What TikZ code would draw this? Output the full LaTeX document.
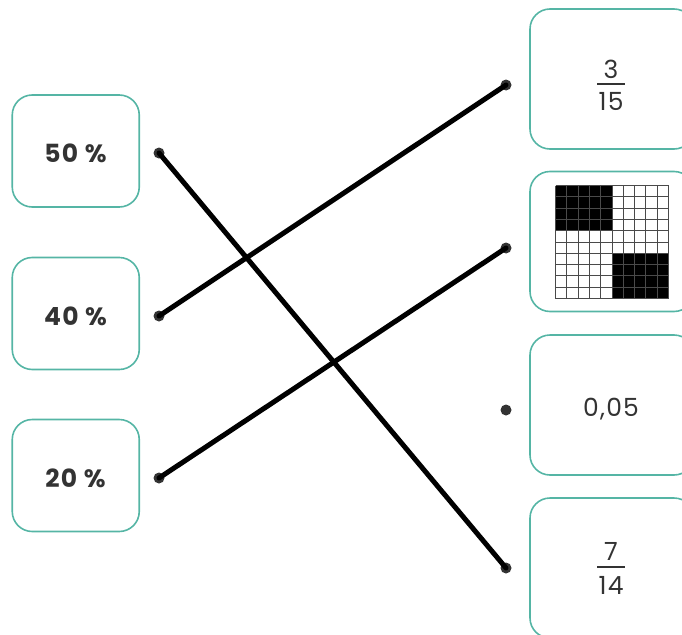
\documentclass[tikz,border=0pt]{standalone}
\usepackage{fontspec}
\setmainfont{Poppins}
\definecolor{tealb}{HTML}{55B5A5}
\definecolor{txt}{HTML}{333333}
\definecolor{gridc}{HTML}{4A4A4A}
\begin{document}
\begin{tikzpicture}[x=1pt,y=-1pt,
  lbox/.style={draw=tealb, line width=1.6pt, rounded corners=20pt, minimum width=127pt, minimum height=112pt, inner sep=0pt},
  rbox/.style={draw=tealb, line width=1.6pt, rounded corners=20pt, minimum width=164pt, minimum height=140pt, inner sep=0pt},
  ltext/.style={inner sep=0pt, text=txt, font=\fontsize{25}{25}\selectfont\bfseries\addfontfeatures{LetterSpace=5}},
  rtext/.style={inner sep=0pt, text=txt, font=\fontsize{25}{25}\selectfont\addfontfeatures{LetterSpace=5}},
  dot/.style={circle, fill=txt, inner sep=0pt, minimum size=11pt},
  link/.style={line width=5pt, black, line cap=round}]
\useasboundingbox (0,0) rectangle (682,634);
\clip (0,0) rectangle (682,634);
% left boxes
\node[lbox] (p50) at (75.75,151) {};
\node[lbox] (p40) at (75.75,313.5) {};
\node[lbox] (p20) at (75.75,475.5) {};
\node[ltext] (t50) at (75.5,153) {50 \%};
\node[ltext] (t40) at (75.5,316) {40 \%};
\node[ltext] (t20) at (75.5,478) {20 \%};
% right boxes
\node[rbox] (r1) at (612,79) {};
\node[rbox] (r2) at (612,241.5) {};
\node[rbox] (r3) at (612,405) {};
\node[rbox] (r4) at (612,568) {};
\node[rtext] (t005) at (611,409) {0,05};
% fractions
\node[rtext] (n1) at (611,69) {3};
\node[rtext] (d1) at (611,101) {15};
\draw[txt, line width=1.3pt] (597,84) -- (625,84);
\node[rtext] (n4) at (611,551) {7};
\node[rtext] (d4) at (611,585) {14};
\draw[txt, line width=1.3pt] (597,567) -- (625,567);
% grid picture
\begin{scope}[shift={(555.5,185.5)}]
  \fill[black] (0,0) rectangle (56.5,45.2);
  \fill[black] (56.5,67.8) rectangle (113,113);
  \foreach \i in {0,...,10} {
    \draw[gridc, line width=0.9pt] (\i*11.3,0) -- (\i*11.3,113);
    \draw[gridc, line width=0.9pt] (0,\i*11.3) -- (113,\i*11.3);
  }
\end{scope}
% dots
\node[dot] (a1) at (159,153) {};
\node[dot] (a2) at (159,316) {};
\node[dot] (a3) at (159,478) {};
\node[dot] (b1) at (506,85) {};
\node[dot] (b2) at (506,248) {};
\node[dot] (b3) at (506,410) {};
\node[dot] (b4) at (506,568) {};
% links
\draw[link] (a1.center) -- (b4.center);
\draw[link] (a2.center) -- (b1.center);
\draw[link] (a3.center) -- (b2.center);
\end{tikzpicture}
\end{document}
